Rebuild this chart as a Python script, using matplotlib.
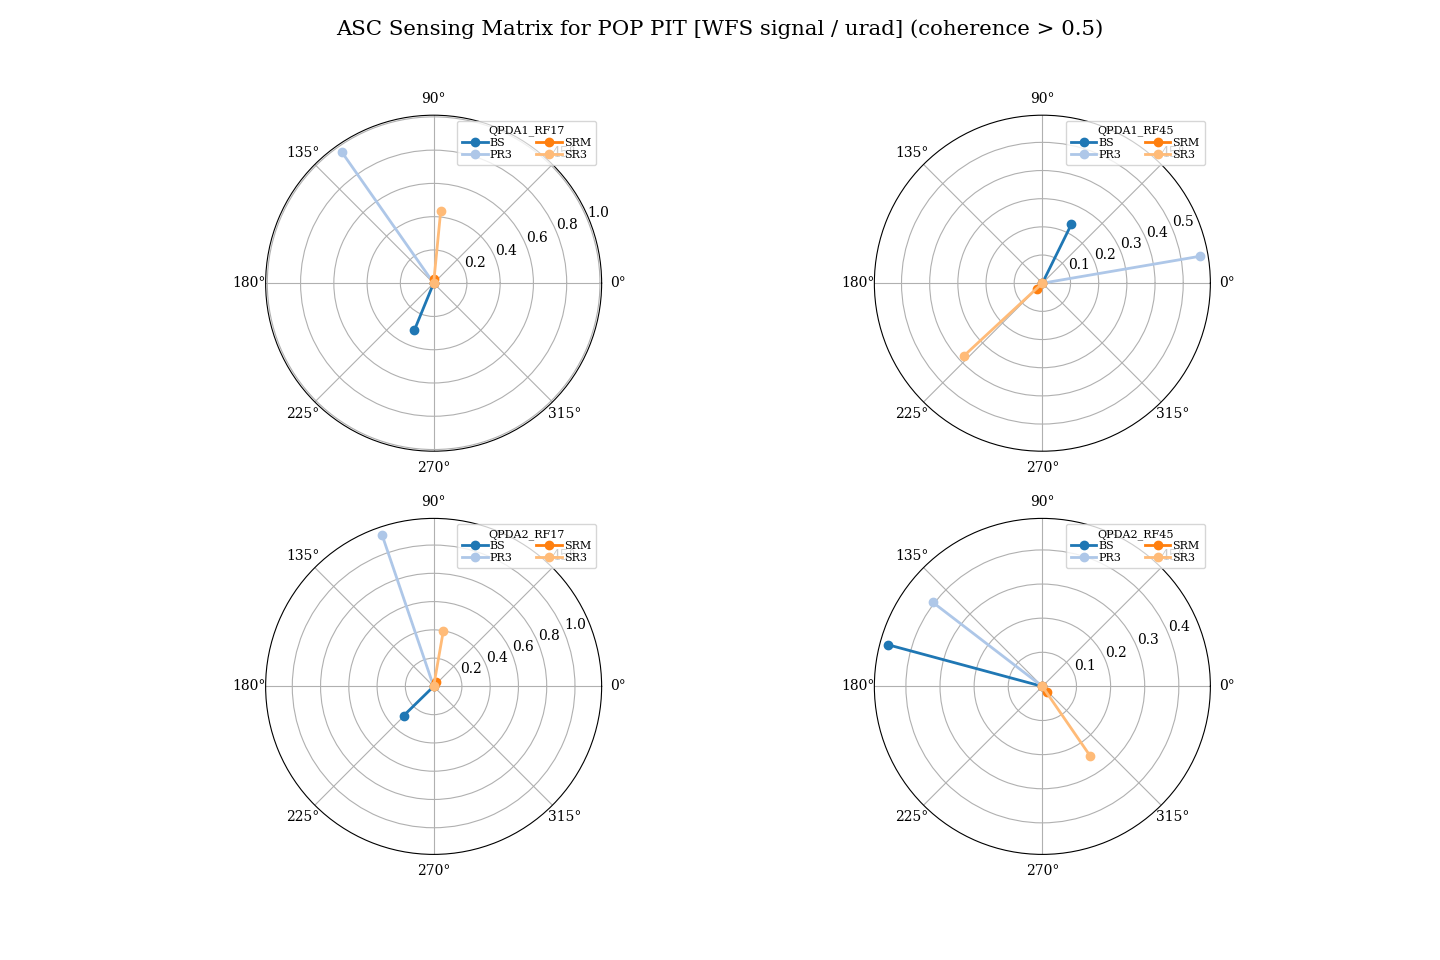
import numpy as np
import matplotlib
matplotlib.use("Agg")
import matplotlib.pyplot as plt

plt.rcParams['font.family'] = 'DejaVu Serif'

# sensor names and optics
sensors = ["QPDA1_RF17", "QPDA1_RF45", "QPDA2_RF17", "QPDA2_RF45"]
optics = ["BS", "PR3", "SRM", "SR3"]
colors = ["#1f77b4", "#aec7e8", "#ff7f0e", "#ffbb78"]

# magnitude [WFS signal / urad] per sensor, order: BS, PR3, SRM, SR3
mag_a1_17 = [0.305, 0.962, 0.025, 0.435]
mag_a1_45 = [0.233, 0.568, 0.028, 0.380]
mag_a2_17 = [0.296, 1.132, 0.033, 0.399]
mag_a2_45 = [0.469, 0.404, 0.021, 0.248]

# phase in degrees
ph_a1_17 = [247.7, 125.0, 80.0, 84.4]
ph_a1_45 = [63.8, 9.7, 223.0, 222.8]
ph_a2_17 = [224.3, 108.8, 60.0, 80.1]
ph_a2_45 = [164.9, 142.5, 307.0, 304.5]

mags = [mag_a1_17, mag_a1_45, mag_a2_17, mag_a2_45]
phases = [ph_a1_17, ph_a1_45, ph_a2_17, ph_a2_45]

fig, axs = plt.subplots(2, 2, figsize=(14.4, 9.6), subplot_kw={'projection': 'polar'})
for ax, sens, m, p in zip(axs.flat, sensors, mags, phases):
    for name, c, r, th in zip(optics, colors, m, p):
        t = np.deg2rad(th)
        ax.plot([t, t], [0, r], marker='o', color=c, lw=2, label=name)
    ax.tick_params(axis='x', pad=1.5)
    ax.legend(title=sens, ncol=2, fontsize=8, title_fontsize=8, loc='upper right',
              labelspacing=0.15, handlelength=2.3, handletextpad=0.2,
              columnspacing=2.1, borderpad=0.45)

fig.suptitle("ASC Sensing Matrix for POP PIT [WFS signal / urad] (coherence > 0.5)", fontsize=15.3)
fig.savefig("out.png", dpi=100)
